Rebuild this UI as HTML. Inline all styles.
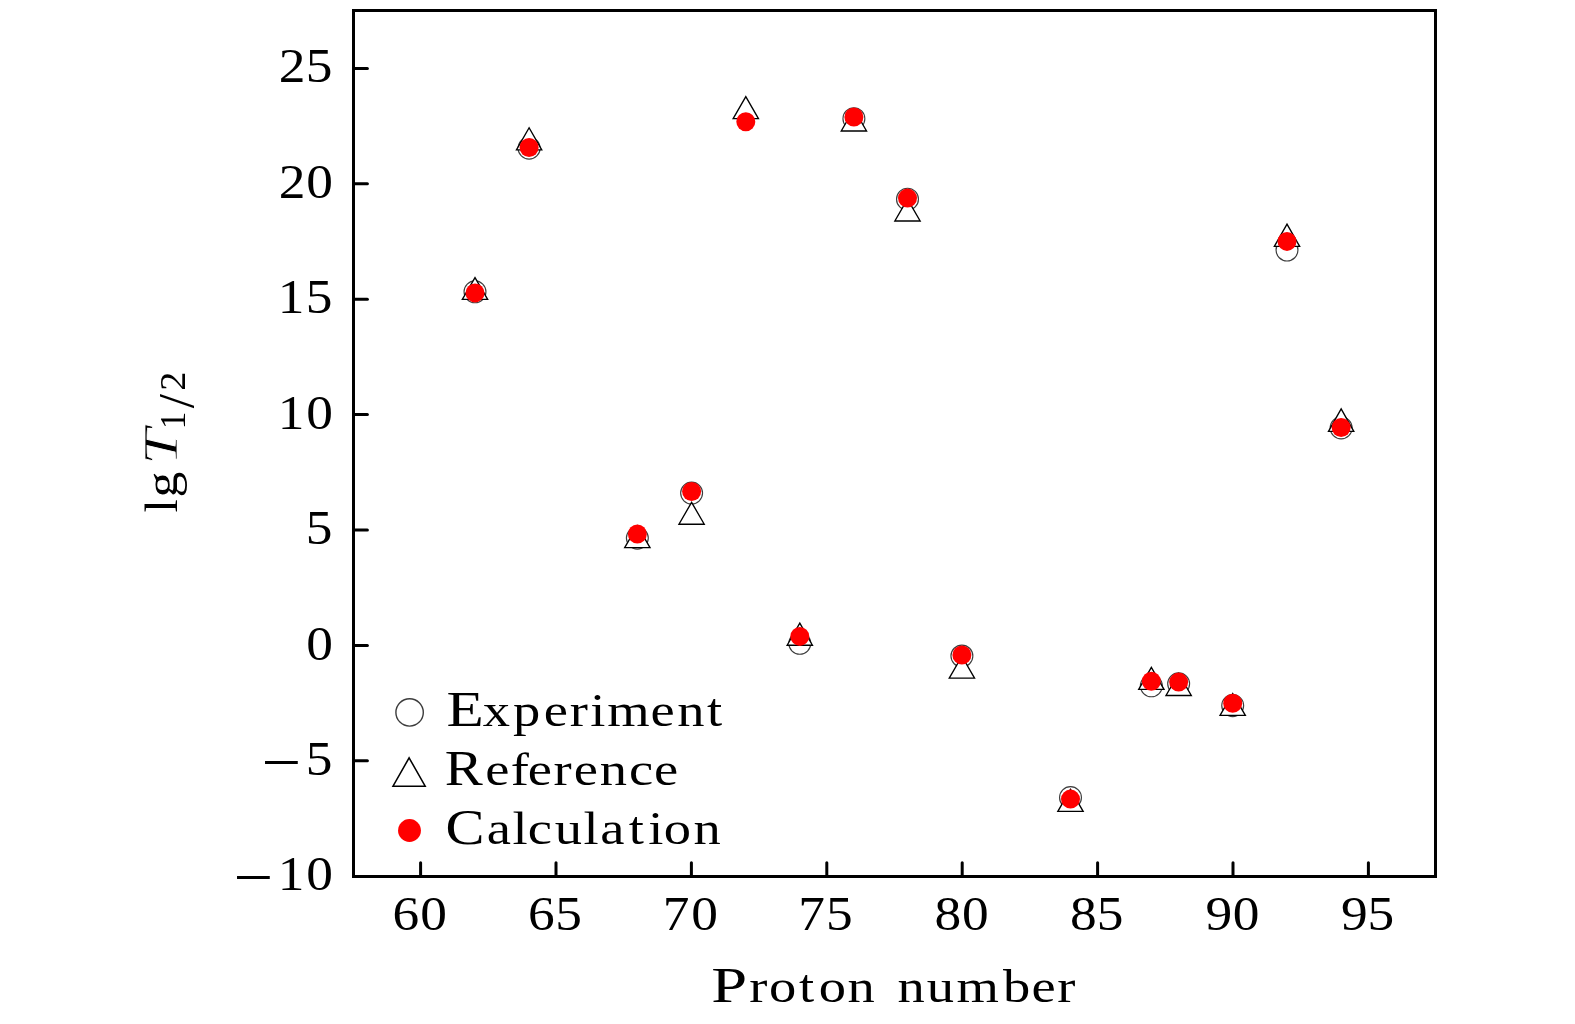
<!DOCTYPE html>
<html lang="en"><head><meta charset="utf-8"><title>lg T1/2 versus proton number</title>
<style>html,body{margin:0;padding:0;background:#fff}body{width:1575px;height:1024px;overflow:hidden;font-family:"Liberation Serif",serif}svg{display:block}text{fill:#000}</style>
</head><body>
<svg width="1575" height="1024" viewBox="0 0 1575 1024">
<rect x="0" y="0" width="1575" height="1024" fill="#fff"/>
<g stroke="#000" stroke-width="3" stroke-linecap="round" fill="none">
<line x1="420.6" y1="876.5" x2="420.6" y2="862.7"/>
<line x1="556" y1="876.5" x2="556" y2="862.7"/>
<line x1="691.4" y1="876.5" x2="691.4" y2="862.7"/>
<line x1="826.8" y1="876.5" x2="826.8" y2="862.7"/>
<line x1="962.2" y1="876.5" x2="962.2" y2="862.7"/>
<line x1="1097.6" y1="876.5" x2="1097.6" y2="862.7"/>
<line x1="1233" y1="876.5" x2="1233" y2="862.7"/>
<line x1="1368.4" y1="876.5" x2="1368.4" y2="862.7"/>
<line x1="353.5" y1="68.4" x2="367.4" y2="68.4"/>
<line x1="353.5" y1="183.8" x2="367.4" y2="183.8"/>
<line x1="353.5" y1="299.2" x2="367.4" y2="299.2"/>
<line x1="353.5" y1="414.6" x2="367.4" y2="414.6"/>
<line x1="353.5" y1="530" x2="367.4" y2="530"/>
<line x1="353.5" y1="645.4" x2="367.4" y2="645.4"/>
<line x1="353.5" y1="760.8" x2="367.4" y2="760.8"/>
</g>
<rect x="353.5" y="10.5" width="1082.0" height="866.0" fill="none" stroke="#000" stroke-width="3" stroke-linejoin="miter"/>
<g fill="none" stroke="#3c3c3c" stroke-width="1.15">
<circle cx="475" cy="291.8" r="10.95"/>
<circle cx="529.1" cy="148.2" r="10.95"/>
<circle cx="637.35" cy="538.1" r="10.95"/>
<circle cx="691.6" cy="493.1" r="10.95"/>
<circle cx="799.8" cy="643.3" r="10.95"/>
<circle cx="853.9" cy="118.7" r="10.95"/>
<circle cx="907.5" cy="199.2" r="10.95"/>
<circle cx="961.9" cy="656" r="10.95"/>
<circle cx="1070.5" cy="797.6" r="10.95"/>
<circle cx="1151.35" cy="685.8" r="10.95"/>
<circle cx="1178.65" cy="683.8" r="10.95"/>
<circle cx="1232.7" cy="705.6" r="10.95"/>
<circle cx="1287" cy="250" r="10.95"/>
<circle cx="1341.15" cy="427.9" r="10.95"/>
</g>
<g fill="#fff" stroke="#000" stroke-width="1.35" stroke-linejoin="miter" stroke-miterlimit="10">
<path d="M475 277.55L487.65 299.43L462.35 299.43Z"/>
<path d="M529.1 127.75L541.75 149.92L516.45 149.92Z"/>
<path d="M637.35 525.75L650 547.62L624.7 547.62Z"/>
<path d="M691.6 502.35L704.25 524.23L678.95 524.23Z"/>
<path d="M745.8 96.55L758.45 118.62L733.15 118.62Z"/>
<path d="M799.8 623.15L812.45 645.28L787.15 645.28Z"/>
<path d="M853.9 109.15L866.55 131.02L841.25 131.02Z"/>
<path d="M907.5 199.15L920.15 221.02L894.85 221.02Z"/>
<path d="M961.9 656.25L974.55 678.12L949.25 678.12Z"/>
<path d="M1070.5 789.35L1083.15 811.43L1057.85 811.43Z"/>
<path d="M1151.35 667.35L1164 689.43L1138.7 689.43Z"/>
<path d="M1178.65 673.65L1191.3 695.53L1166 695.53Z"/>
<path d="M1232.7 693.55L1245.35 715.43L1220.05 715.43Z"/>
<path d="M1287 224.15L1299.65 246.32L1274.35 246.32Z"/>
<path d="M1341.15 408.95L1353.8 431.32L1328.5 431.32Z"/>
</g>
<g fill="#ff0000" stroke="none">
<circle cx="475" cy="292.9" r="9.5"/>
<circle cx="529.1" cy="147.45" r="9.5"/>
<circle cx="637.35" cy="533.95" r="9.5"/>
<circle cx="691.6" cy="491.5" r="9.5"/>
<circle cx="745.8" cy="121.7" r="9.5"/>
<circle cx="799.8" cy="636.4" r="9.5"/>
<circle cx="853.9" cy="117.05" r="9.5"/>
<circle cx="907.5" cy="198.1" r="9.5"/>
<circle cx="961.9" cy="655" r="9.5"/>
<circle cx="1070.5" cy="799.1" r="9.5"/>
<circle cx="1151.35" cy="681.2" r="9.5"/>
<circle cx="1178.65" cy="682.1" r="9.5"/>
<circle cx="1232.7" cy="703.2" r="9.5"/>
<circle cx="1287" cy="241.4" r="9.5"/>
<circle cx="1341.15" cy="427.55" r="9.5"/>
</g>
<circle cx="409.6" cy="712.4" r="13.7" fill="none" stroke="#3c3c3c" stroke-width="1.4"/>
<g fill="#fff" stroke="#000" stroke-width="1.55" stroke-linejoin="miter" stroke-miterlimit="10"><path d="M409.1 757.85L425.2 786.23L393 786.23Z"/></g>
<circle cx="409.5" cy="830.5" r="11.45" fill="#ff0000"/>
<g transform="translate(0,726) scale(1.22,1)"><text font-family="Liberation Serif" font-size="50" x="365.94" y="0">E</text></g><g transform="translate(0,726) scale(1.16,1)"><text font-family="Liberation Serif" font-size="47" x="416.18 442.28 468.82 491.09 508.77 523.49 560.89 583.84 609.54" y="0">xperiment</text></g>
<g transform="translate(0,785.1) scale(1.14,1)"><text font-family="Liberation Serif" font-size="50" x="390.12" y="0">R</text></g><g transform="translate(0,785.1) scale(1.16,1)"><text font-family="Liberation Serif" font-size="47" x="418.22 440.29 454.98 477.13 494.68 516.95 542.2 563.82" y="0">eference</text></g>
<g transform="translate(0,843.9) scale(1.17,1)"><text font-family="Liberation Serif" font-size="50" x="380.68" y="0">C</text></g><g transform="translate(0,843.9) scale(1.16,1)"><text font-family="Liberation Serif" font-size="47" x="419.71 441.75 454.91 478.21 503.04 517.51 542.13 558.86 572.26 597.81" y="0">alculation</text></g>
<g transform="translate(0,1002.1) scale(1.29,1)"><text font-family="Liberation Serif" font-size="50" x="551.36" y="0">P</text></g><g transform="translate(0,1002.1) scale(1.16,1)"><text font-family="Liberation Serif" font-size="47" x="646.01 662.95 688.77 705.79 730.52 752.14 773.76 798.95 824.53 864.62 889.29 911.48" y="0">roton number</text></g>
<g transform="translate(0,930.3) scale(1.09,1)"><text font-family="Liberation Serif" font-size="49" x="360.18 385.64" y="0">60</text></g>
<g transform="translate(0,930.3) scale(1.09,1)"><text font-family="Liberation Serif" font-size="49" x="484.4 509.39" y="0">65</text></g>
<g transform="translate(0,930.3) scale(1.09,1)"><text font-family="Liberation Serif" font-size="49" x="608.03 634.08" y="0">70</text></g>
<g transform="translate(0,930.3) scale(1.09,1)"><text font-family="Liberation Serif" font-size="49" x="732.25 757.83" y="0">75</text></g>
<g transform="translate(0,930.3) scale(1.09,1)"><text font-family="Liberation Serif" font-size="49" x="857.38 882.52" y="0">80</text></g>
<g transform="translate(0,930.3) scale(1.09,1)"><text font-family="Liberation Serif" font-size="49" x="981.6 1006.27" y="0">85</text></g>
<g transform="translate(0,930.3) scale(1.09,1)"><text font-family="Liberation Serif" font-size="49" x="1106.04 1130.96" y="0">90</text></g>
<g transform="translate(0,930.3) scale(1.09,1)"><text font-family="Liberation Serif" font-size="49" x="1230.26 1254.71" y="0">95</text></g>
<g transform="translate(0,82.3) scale(1.09,1)"><text font-family="Liberation Serif" font-size="49" x="255.73 280.59" y="0">25</text></g>
<g transform="translate(0,197.75) scale(1.09,1)"><text font-family="Liberation Serif" font-size="49" x="255.73 281.05" y="0">20</text></g>
<g transform="translate(0,313.2) scale(1.09,1)"><text font-family="Liberation Serif" font-size="49" x="254.77 280.59" y="0">15</text></g>
<g transform="translate(0,428.65) scale(1.09,1)"><text font-family="Liberation Serif" font-size="49" x="254.77 281.05" y="0">10</text></g>
<g transform="translate(0,544.1) scale(1.09,1)"><text font-family="Liberation Serif" font-size="49" x="280.59" y="0">5</text></g>
<g transform="translate(0,659.55) scale(1.09,1)"><text font-family="Liberation Serif" font-size="49" x="281.05" y="0">0</text></g>
<g transform="translate(281.45,762.2) scale(1.41,1.24)"><text font-family="Liberation Serif" font-size="50" x="-14.12" y="16.6">−</text></g><g transform="translate(0,775) scale(1.09,1)"><text font-family="Liberation Serif" font-size="49" x="280.59" y="0">5</text></g>
<g transform="translate(253.3,877.65) scale(1.41,1.24)"><text font-family="Liberation Serif" font-size="50" x="-14.12" y="16.6">−</text></g><g transform="translate(0,890.45) scale(1.09,1)"><text font-family="Liberation Serif" font-size="49" x="254.77 281.05" y="0">10</text></g>
<g style="will-change:transform"><g transform="translate(176.7,0) rotate(-90) scale(1.001,1)"><text font-family="Liberation Serif" font-size="47" x="-512.02" y="0">l</text></g><g transform="translate(176.7,0) rotate(-90) scale(1.1,1)"><text font-family="Liberation Serif" font-size="47" x="-452.18" y="0">g</text></g> <g transform="translate(176.7,0) rotate(-90) scale(1.34,1)"><text font-family="Liberation Serif" font-style="italic" stroke="#fff" stroke-width="0.7" style="paint-order:fill stroke" font-size="49" x="-347.09" y="0">T</text></g><g transform="translate(185.1,0) rotate(-90) scale(1.0,1)"><text font-family="Liberation Serif" font-size="35" x="-429.19" y="0">1</text></g><g transform="translate(193.4,0) rotate(-90) scale(1.0,1)"><text font-family="Liberation Serif" font-size="51" x="-408.13" y="0">/</text></g><g transform="translate(185.1,0) rotate(-90) scale(1.09,1)"><text font-family="Liberation Serif" font-size="35" x="-358.55" y="0">2</text></g></g>
</svg>
</body></html>
